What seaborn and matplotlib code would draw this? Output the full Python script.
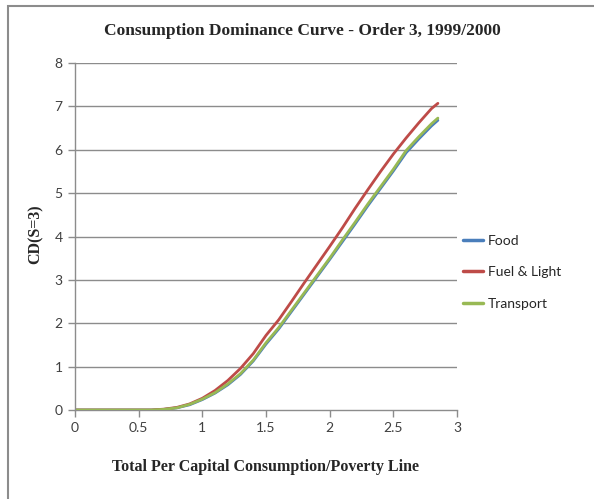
import matplotlib
matplotlib.use("Agg")
import matplotlib.pyplot as plt
import seaborn as sns
import pandas as pd
from matplotlib.patches import Rectangle
from matplotlib.lines import Line2D

x_vals = [0.0, 0.1, 0.2, 0.3, 0.4, 0.5, 0.6, 0.7, 0.8, 0.9, 1.0, 1.1, 1.2, 1.3, 1.4,
          1.5, 1.6, 1.7, 1.8, 1.9, 2.0, 2.1, 2.2, 2.3, 2.4, 2.5, 2.6, 2.7, 2.8, 2.85]
food = [0, 0, 0, 0, 0, 0, 0.0, 0.015, 0.05, 0.12, 0.24, 0.39, 0.58, 0.82, 1.13,
        1.52, 1.87, 2.27, 2.67, 3.07, 3.47, 3.88, 4.29, 4.71, 5.11, 5.51, 5.93, 6.25, 6.55, 6.68]
fuel = [0, 0, 0, 0, 0, 0, 0.0, 0.02, 0.06, 0.14, 0.27, 0.45, 0.68, 0.96, 1.3,
        1.72, 2.08, 2.5, 2.93, 3.35, 3.77, 4.2, 4.65, 5.08, 5.5, 5.9, 6.27, 6.62, 6.95, 7.07]
transport = [0, 0, 0, 0, 0, 0, 0.0, 0.015, 0.05, 0.13, 0.25, 0.4, 0.6, 0.84, 1.15,
             1.55, 1.9, 2.3, 2.7, 3.1, 3.5, 3.92, 4.33, 4.75, 5.15, 5.55, 5.98, 6.3, 6.6, 6.73]
series_names = ["Food", "Fuel & Light", "Transport"]
colors = ["#4a7ebb", "#be4b48", "#98b954"]
x_ticks = [0, 0.5, 1, 1.5, 2, 2.5, 3]
x_tick_labels = ["0", "0.5", "1", "1.5", "2", "2.5", "3"]
y_ticks = [0, 1, 2, 3, 4, 5, 6, 7, 8]

df = pd.concat([
    pd.DataFrame({"x": x_vals, "y": vals, "series": name})
    for name, vals in zip(series_names, [food, fuel, transport])
], ignore_index=True)

sns.set_theme(style="white")
plt.rcParams['font.family'] = ['Lato', 'DejaVu Sans']

fig = plt.figure(figsize=(5.94, 4.99), dpi=100)
ax = fig.add_axes([75/594, 1 - 410/499, (457 - 75)/594, (410 - 63)/499])

sns.lineplot(data=df, x="x", y="y", hue="series", hue_order=series_names,
             palette=colors, linewidth=2.0, ax=ax, legend=False)

ax.set_xlim(0, 3)
ax.set_ylim(0, 8)
ax.set_xticks(x_ticks)
ax.set_xticklabels(x_tick_labels)
ax.set_yticks(y_ticks)
for yv in y_ticks[1:]:
    ax.axhline(yv, color="#8c8c8c", linewidth=1.0, zorder=0)

for s in ["top", "right"]:
    ax.spines[s].set_visible(False)
for s in ["left", "bottom"]:
    ax.spines[s].set_color("#8c8c8c")
    ax.spines[s].set_linewidth(1.0)
ax.spines["bottom"].set_zorder(0.5)

ax.tick_params(axis="both", which="major", direction="out", length=5, width=1,
               color="#8c8c8c", labelsize=10, labelcolor="#404040", pad=4,
               bottom=True, left=True)
ax.set_xlabel("")
ax.set_ylabel("")

serif = ['Liberation Serif', 'DejaVu Serif']
fig.text(302/594, 1 - 31/499, "Consumption Dominance Curve - Order 3, 1999/2000",
         ha="center", va="center", fontsize=12.5, fontweight="bold", family=serif)
fig.text(265/594, 1 - 467/499, "Total Per Capital Consumption/Poverty Line",
         ha="center", va="center", fontsize=11.5, fontweight="bold", family=serif)
fig.text(36/594, 1 - 234/499, "CD(S=3)", ha="center", va="center", rotation=90,
         fontsize=11.5, fontweight="bold", family=serif)

handles = [Line2D([0], [0], color=c, linewidth=2.5) for c in colors]
leg = fig.legend(handles, series_names, loc="upper left",
                 bbox_to_anchor=(457/594, 1 - 229/499), frameon=False,
                 fontsize=10, handlelength=1.5, handletextpad=0.3,
                 labelspacing=1.42, borderaxespad=0)

fig.patches.append(Rectangle((8/594, -0.1), 1.2, 1 - 6/499 + 0.1,
                             transform=fig.transFigure, fill=False,
                             edgecolor="#8c8c8c", linewidth=1.5))

fig.savefig("out.png", dpi=100)
